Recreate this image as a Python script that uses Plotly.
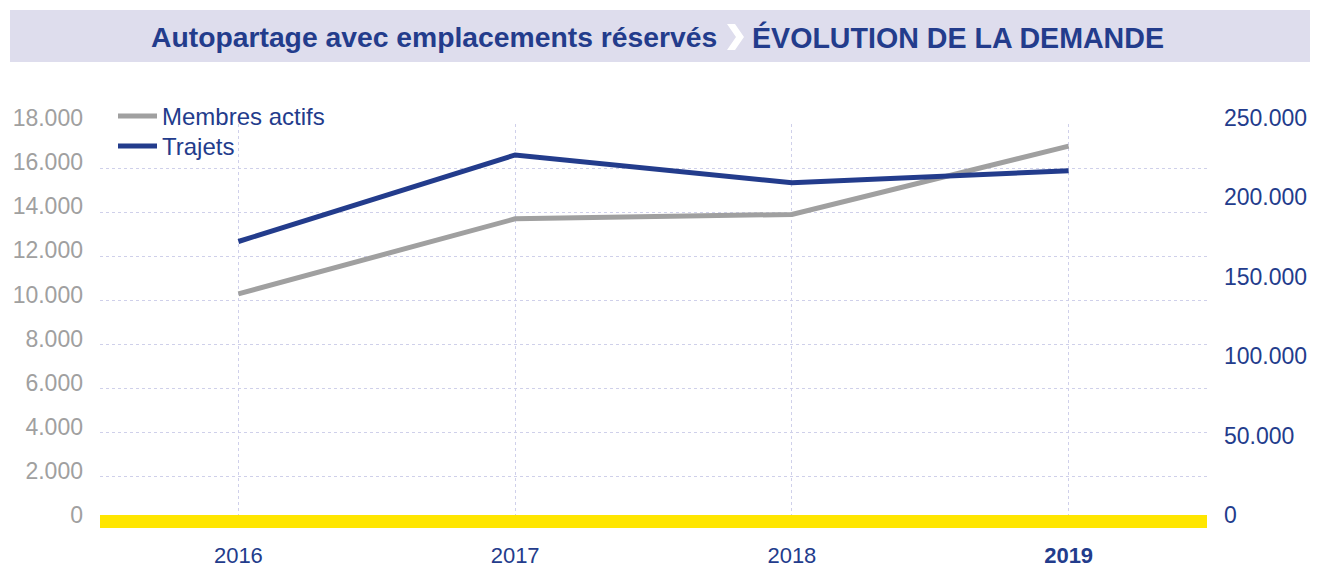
import plotly.graph_objects as go

years = ["2016", "2017", "2018", "2019"]
year_labels = ["2016", "2017", "2018", "<b>2019</b>"]
membres_actifs = [10300, 13700, 13900, 17000]
trajets = [176000, 230500, 213000, 220500]

left_ticks = [0, 2000, 4000, 6000, 8000, 10000, 12000, 14000, 16000, 18000]
right_ticks = [0, 50000, 100000, 150000, 200000, 250000]

W, H = 1318, 569
L, R, T, B = 100, 1207, 124, 521

def px(x):
    return (x - L) / (R - L)

def py(y):
    return (B - y) / (B - T)

BLUE = "#233c8c"
GRAY = "#a0a0a0"
GRID = "#cfd0ea"

fig = go.Figure()
fig.add_trace(go.Scatter(x=years, y=membres_actifs, name="Membres actifs", mode="lines",
                         line=dict(color=GRAY, width=5), yaxis="y", legend="legend"))
fig.add_trace(go.Scatter(x=years, y=trajets, name="Trajets", mode="lines",
                         line=dict(color=BLUE, width=5), yaxis="y2", legend="legend2"))

chev = [(727, 24), (735, 24), (744, 37), (735, 50), (727, 50), (736, 37)]
path = "M " + " L ".join(f"{px(a)},{py(b)}" for a, b in chev) + " Z"

leg_common = dict(xanchor="left", yanchor="top", font=dict(size=24, color=BLUE),
                  itemwidth=39, bgcolor="rgba(0,0,0,0)")

fig.update_layout(
    width=W, height=H,
    margin=dict(l=L, r=W - R, t=T, b=H - B, autoexpand=False),
    plot_bgcolor="white", paper_bgcolor="white",
    separators=",.",
    font=dict(family="Liberation Sans, Arial, sans-serif", color=BLUE),
    showlegend=True,
    legend=dict(x=px(113), y=py(94), **leg_common),
    legend2=dict(x=px(113), y=py(124), **leg_common),
    xaxis=dict(type="category", categoryarray=years, range=[-0.5, 3.5],
               tickvals=years, ticktext=year_labels, automargin=False,
               showgrid=True, gridcolor=GRID, griddash="dot", gridwidth=1,
               showline=False, zeroline=False, ticks="",
               tickfont=dict(size=22, color=BLUE), ticklabelstandoff=19),
    yaxis=dict(range=[0, 18000], tickvals=left_ticks, tickformat=",d", automargin=False,
               showgrid=True, gridcolor=GRID, griddash="dot", gridwidth=1,
               zeroline=False, showline=False, ticks="",
               tickfont=dict(size=23, color=GRAY), ticklabelstandoff=16,
               ticklabelshift=-6),
    yaxis2=dict(range=[0, 250000], tickvals=right_ticks, tickformat=",d", automargin=False,
                overlaying="y", side="right", showgrid=False, zeroline=False,
                showline=False, ticks="",
                tickfont=dict(size=23, color=BLUE), ticklabelstandoff=16,
                ticklabelshift=-6),
    shapes=[
        dict(type="rect", xref="paper", yref="paper", x0=px(10), x1=px(1310),
             y0=py(62), y1=py(10), fillcolor="#dedded", line=dict(width=0), layer="below"),
        dict(type="path", xref="paper", yref="paper", path=path,
             fillcolor="white", line=dict(width=0), layer="above"),
        dict(type="rect", xref="paper", yref="paper", x0=0, x1=1, y0=py(528), y1=py(515),
             fillcolor="#ffe600", line=dict(width=0), layer="above"),
    ],
    annotations=[
        dict(xref="paper", yref="paper", x=px(719), y=py(37), xanchor="right", yanchor="middle",
             text="<b>Autopartage avec emplacements réservés</b>", showarrow=False,
             font=dict(size=28.3, color=BLUE)),
        dict(xref="paper", yref="paper", x=px(750), y=py(37), xanchor="left", yanchor="middle",
             text="<b>ÉVOLUTION DE LA DEMANDE</b>", showarrow=False,
             font=dict(size=28.6, color=BLUE)),
    ],
)

fig.write_html("out.html", config={"displayModeBar": False},
               post_script="document.body.style.margin='0';")
